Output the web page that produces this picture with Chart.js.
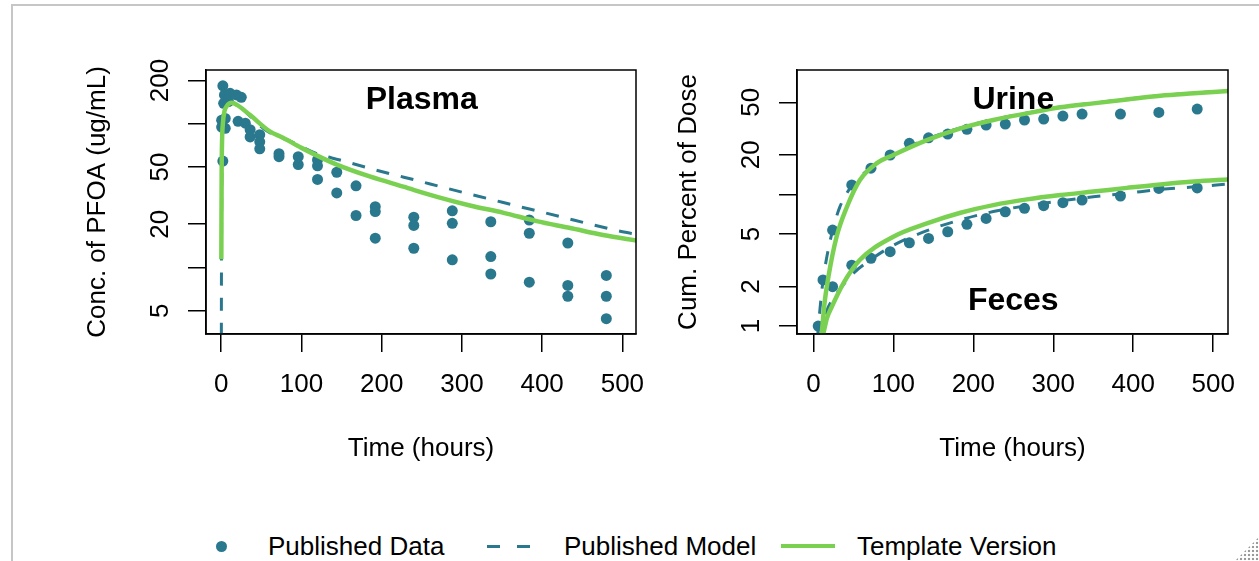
<!DOCTYPE html>
<html>
<head>
<meta charset="utf-8">
<script src="https://cdn.jsdelivr.net/npm/chart.js@4.4.1/dist/chart.umd.min.js"></script>
<style>
  html, body { margin: 0; padding: 0; background: #fff; }
  body { width: 1259px; height: 561px; position: relative; overflow: hidden; font-family: "Liberation Sans", Arial, sans-serif; color: #000; }
  .frame { position: absolute; left: 11px; top: 4px; right: -10px; bottom: -10px; border-top: 2px solid #c6c6c6; border-left: 2px solid #c6c6c6; }
  .panel { position: absolute; top: 0; height: 470px; }
  .legend { position: absolute; left: 0; top: 531px; height: 30px; width: 1259px; font-size: 26px; line-height: 30px; }
  .legend span { position: absolute; }
  .grip { position: absolute; right: 0; bottom: 0; width: 24px; height: 24px;
    background: radial-gradient(circle, #9a9a9a 1.1px, transparent 1.6px) 0 0 / 4px 4px;
    clip-path: polygon(100% 0, 100% 100%, 0 100%); }
</style>
</head>
<body>
<div class="frame"></div>
<div class="panel" style="left:0;width:650px"><canvas id="plasmaChart" width="650" height="470"></canvas></div>
<div class="panel" style="left:650px;width:609px"><canvas id="excretaChart" width="609" height="470"></canvas></div>
<div class="legend">
  <span style="left:216px;top:10px;width:11px;height:11px;border-radius:50%;background:#2A788E"></span>
  <span style="left:268px;top:0">Published Data</span>
  <span style="left:487px;top:14px;width:60px;height:3px;background:repeating-linear-gradient(to right,#2A788E 0 13px,transparent 13px 30px)"></span>
  <span style="left:564px;top:0">Published Model</span>
  <span style="left:781px;top:13px;width:54px;height:4px;background:#7AD151"></span>
  <span style="left:857px;top:0">Template Version</span>
</div>
<div class="grip"></div>
<script>
  const DATA_COLOR = '#2A788E';
  const TEMPLATE_COLOR = '#7AD151';

  const timeTicks = [0, 100, 200, 300, 400, 500];

  // plasma panel
  const plasmaTicks = [5, 10, 20, 50, 100, 200];
  const plasmaTickLabels = ['5', '', '20', '50', '', '200'];

  const plasmaObsTime = [2, 0.5, 0.5, 2, 3, 4, 5, 5, 9, 11, 19, 21, 25, 30, 36, 36, 48, 48, 48, 72, 72, 96, 96,
    120, 120, 120, 144, 144, 168, 168, 192, 192, 192, 240, 240, 240, 288, 288, 288, 336, 336, 336,
    384, 384, 384, 432, 432, 432, 480, 480, 480];
  const plasmaObsConc = [184, 106, 95, 55, 139, 159, 109, 93, 143, 163, 159, 104, 153, 101, 91, 81, 84, 75, 67, 62, 59, 59, 52,
    56, 51, 41, 46, 33, 37, 23, 26.5, 24.5, 16, 22.4, 19.6, 13.6, 24.8, 20.3, 11.3, 20.8, 11.9, 9.0,
    21.4, 17.3, 7.9, 14.8, 7.5, 6.3, 8.8, 6.3, 4.4];

  const plasmaModelTime = [0.05, 0.3, 1, 2, 4, 8, 13, 20, 36, 57, 88, 119, 148, 179, 210, 244, 275, 304, 337, 366, 397, 428, 457, 491, 520];
  const plasmaModelConc = [1.5, 12, 60, 100, 125, 137, 141, 136, 113, 89, 75, 62, 56, 50, 45, 40.3, 36.3, 33, 29.7, 27, 24.5, 22.2, 20.2, 18.2, 16.9];

  const plasmaTemplateTime = [0.1, 0.5, 1, 2, 4, 7, 13, 20, 36, 60, 77, 100, 144, 185, 227, 269, 310, 352, 393, 435, 476, 520];
  const plasmaTemplateConc = [11.4, 45, 75, 100, 122, 133, 140, 135, 115, 89, 80, 68, 52, 43, 36.5, 31, 27, 24, 21, 18.8, 16.8, 15.3];

  // urine / feces panel
  const excretaTicks = [1, 2, 5, 10, 20, 50];
  const excretaTickLabels = ['1', '2', '5', '', '20', '50'];

  const urineObsTime = [6, 12, 24, 48, 72, 96, 120, 144, 168, 192, 216, 240, 264, 288, 312, 336, 384, 432, 480];
  const urineObsPct = [1.0, 2.24, 5.36, 11.8, 15.8, 19.9, 24.4, 26.9, 28.7, 31.2, 33.6, 34.2, 36.7, 37.3, 39.3, 40.7, 40.7, 41.9, 44.4];
  const fecesObsTime = [24, 48, 72, 96, 120, 144, 168, 192, 216, 240, 264, 288, 312, 336, 384, 432, 480];
  const fecesObsPct = [1.99, 2.90, 3.27, 3.67, 4.29, 4.63, 5.20, 5.92, 6.57, 7.38, 7.83, 8.20, 8.64, 9.05, 9.70, 11.1, 11.2];

  const urineModelTime = [5, 8, 12, 17, 24, 33, 48, 72, 100, 142, 184, 225, 267, 309, 350, 392, 434, 476, 520];
  const urineModelPct = [0.8, 1.3, 2.2, 3.4, 5.3, 8.0, 11.6, 15.9, 20.2, 26.3, 32, 37, 41.5, 46, 49.3, 52.8, 56.3, 58.8, 61.5];
  const fecesModelTime = [8, 12, 17, 24, 33, 48, 72, 100, 142, 184, 225, 267, 309, 350, 392, 434, 476, 520];
  const fecesModelPct = [0.8, 1.05, 1.32, 1.6, 1.9, 2.45, 3.2, 4.1, 5.3, 6.4, 7.4, 8.2, 8.9, 9.6, 10.2, 10.9, 11.4, 12.0];

  const urineTemplateTime = [10.5, 14, 18.8, 29, 42, 58, 79, 100, 142, 184, 225, 267, 309, 350, 392, 434, 476, 520];
  const urineTemplatePct = [0.88, 1.5, 2.37, 4.77, 8.05, 12.8, 17.2, 19.9, 25.8, 31.7, 36.7, 41.2, 45.8, 49.1, 52.6, 56.1, 58.5, 61];
  const fecesTemplateTime = [12.5, 17, 23, 37.5, 58, 100, 142, 184, 225, 267, 309, 350, 392, 434, 476, 520];
  const fecesTemplatePct = [0.88, 1.15, 1.4, 2.11, 3.17, 4.77, 6.02, 7.25, 8.29, 9.16, 9.88, 10.5, 11.2, 11.9, 12.5, 13.0];

  Chart.defaults.font.family = '"Liberation Sans", Arial, sans-serif';
  Chart.defaults.color = '#000';

  function toPoints(xs, ys) {
    return xs.map((x, i) => ({ x: x, y: ys[i] }));
  }

  function obsSet(xs, ys) {
    return { data: toPoints(xs, ys), pointRadius: 5.5, pointBackgroundColor: DATA_COLOR, pointBorderWidth: 0, showLine: false, order: 3 };
  }

  function modelSet(xs, ys) {
    return { data: toPoints(xs, ys), showLine: true, borderColor: DATA_COLOR, borderWidth: 3, borderDash: [13, 12],
      pointRadius: 0, cubicInterpolationMode: 'monotone', order: 2 };
  }

  function templateSet(xs, ys) {
    return { data: toPoints(xs, ys), showLine: true, borderColor: TEMPLATE_COLOR, borderWidth: 4.5,
      pointRadius: 0, cubicInterpolationMode: 'monotone', order: 1 };
  }

  // box round the plot, R-style vertical y tick labels, and the panel captions
  const panelDecor = {
    id: 'panelDecor',
    afterDraw(chart, args, opts) {
      const { ctx, chartArea: a, scales } = chart;
      ctx.save();
      ctx.strokeStyle = '#000';
      ctx.lineWidth = 1.5;
      ctx.strokeRect(a.left, a.top, a.right - a.left, a.bottom - a.top);

      ctx.fillStyle = '#000';
      ctx.font = '26px "Liberation Sans", Arial, sans-serif';
      ctx.textAlign = 'center';
      ctx.textBaseline = 'alphabetic';
      opts.tickValues.forEach((v, i) => {
        if (!opts.tickLabels[i]) return;
        ctx.save();
        ctx.translate(a.left - 38, scales.y.getPixelForValue(v));
        ctx.rotate(-Math.PI / 2);
        ctx.fillText(opts.tickLabels[i], 0, 0);
        ctx.restore();
      });

      ctx.font = 'bold 32px "Liberation Sans", Arial, sans-serif';
      ctx.textBaseline = 'middle';
      opts.notes.forEach(n => {
        ctx.fillText(n.text, scales.x.getPixelForValue(n.x), scales.y.getPixelForValue(n.y));
      });
      ctx.restore();
    }
  };

  function makePanel(canvasId, p) {
    const axisLine = { display: true, color: '#000', width: 1.5 };
    const ticksGrid = { drawOnChartArea: false, drawTicks: true, tickLength: 18, color: '#000', lineWidth: 1.5 };

    return new Chart(document.getElementById(canvasId), {
      type: 'scatter',
      data: { datasets: p.datasets },
      options: {
        responsive: false,
        animation: false,
        events: [],
        layout: { padding: { top: 70, right: p.padRight, bottom: 0, left: 0 } },
        plugins: {
          legend: { display: false },
          tooltip: { enabled: false },
          panelDecor: { tickValues: p.yTicks, tickLabels: p.yTickLabels, notes: p.notes }
        },
        scales: {
          x: {
            type: 'linear',
            min: p.xMin,
            max: p.xMax,
            afterBuildTicks: s => { s.ticks = timeTicks.map(v => ({ value: v })); },
            afterFit: s => { s.height = 136; s.paddingLeft = 0; s.paddingRight = 0; },
            ticks: { font: { size: 26 }, padding: 17, maxRotation: 0, autoSkip: false, callback: v => String(v) },
            grid: ticksGrid,
            border: axisLine,
            title: { display: true, text: 'Time (hours)', font: { size: 26 }, padding: { top: 0, bottom: 6 } }
          },
          y: {
            type: 'logarithmic',
            min: p.yMin,
            max: p.yMax,
            afterBuildTicks: s => { s.ticks = p.yTicks.map(v => ({ value: v })); },
            afterFit: s => { s.width = p.yWidth; s.paddingTop = 0; s.paddingBottom = 0; },
            ticks: { display: false },
            grid: ticksGrid,
            border: axisLine,
            title: { display: true, text: p.yTitle, font: { size: 26 }, padding: { top: p.yTitlePad, bottom: 0 } }
          }
        }
      },
      plugins: [panelDecor]
    });
  }

  makePanel('plasmaChart', {
    datasets: [
      obsSet(plasmaObsTime, plasmaObsConc),
      modelSet(plasmaModelTime, plasmaModelConc),
      templateSet(plasmaTemplateTime, plasmaTemplateConc)
    ],
    xMin: -19, xMax: 517,
    yMin: 3.44, yMax: 237,
    yTicks: plasmaTicks, yTickLabels: plasmaTickLabels,
    yTitle: 'Conc. of PFOA (ug/mL)', yTitlePad: 82,
    yWidth: 206, padRight: 14,
    notes: [{ text: 'Plasma', x: 250, y: 147 }]
  });

  makePanel('excretaChart', {
    datasets: [
      obsSet(urineObsTime, urineObsPct),
      obsSet(fecesObsTime, fecesObsPct),
      modelSet(urineModelTime, urineModelPct),
      modelSet(fecesModelTime, fecesModelPct),
      templateSet(urineTemplateTime, urineTemplatePct),
      templateSet(fecesTemplateTime, fecesTemplatePct)
    ],
    xMin: -20.5, xMax: 518.5,
    yMin: 0.87, yMax: 88,
    yTicks: excretaTicks, yTickLabels: excretaTickLabels,
    yTitle: 'Cum. Percent of Dose', yTitlePad: 23,
    yWidth: 147, padRight: 31,
    notes: [{ text: 'Urine', x: 250, y: 52 }, { text: 'Feces', x: 250, y: 1.55 }]
  });
</script>
</body>
</html>
